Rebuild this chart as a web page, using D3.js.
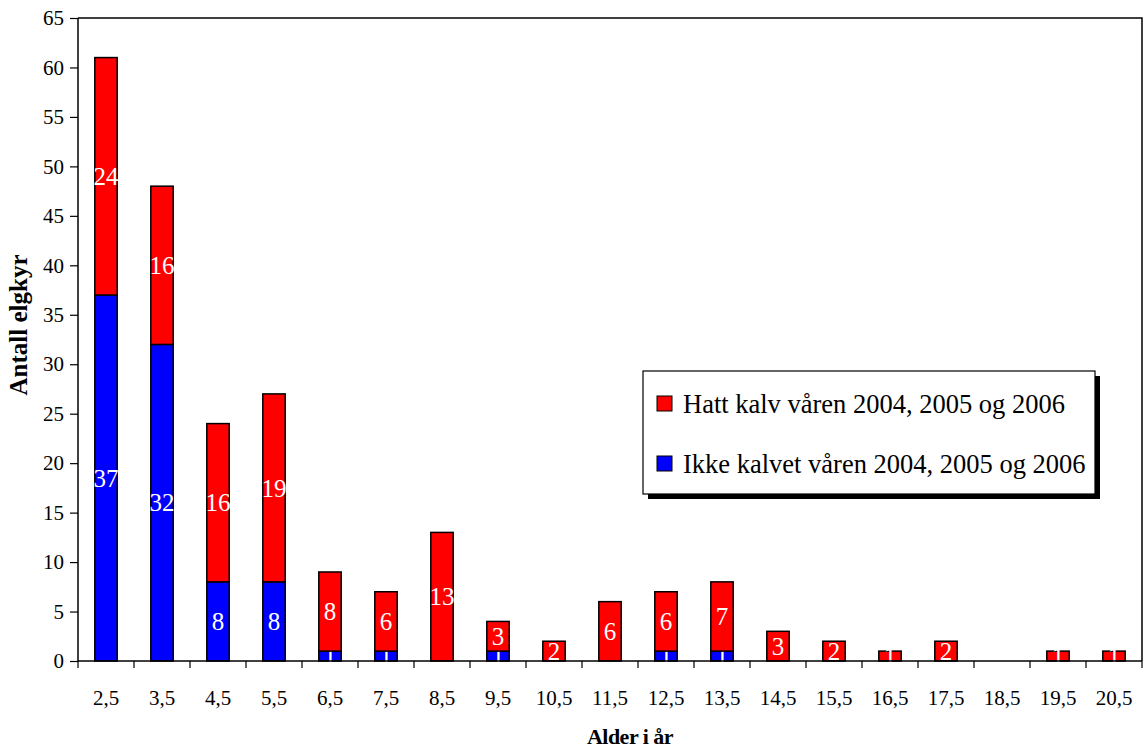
<!DOCTYPE html>
<html>
<head>
<meta charset="utf-8">
<script src="https://cdn.jsdelivr.net/npm/d3@7/dist/d3.min.js"></script>
<style>
  body { margin: 0; background: #fff; }
  svg text { font-family: "Liberation Serif", "Times New Roman", serif; }
</style>
</head>
<body>
<svg id="chart" width="1144" height="749"></svg>
<script>
// data
var ages = ["2,5","3,5","4,5","5,5","6,5","7,5","8,5","9,5","10,5","11,5","12,5","13,5","14,5","15,5","16,5","17,5","18,5","19,5","20,5"];
var ikkeKalvet = [37, 32, 8, 8, 1, 1, 0, 1, 0, 0, 1, 1, 0, 0, 0, 0, 0, 0, 0];
var hattKalv   = [24, 16, 16, 19, 8, 6, 13, 3, 2, 6, 6, 7, 3, 2, 1, 2, 0, 1, 1];
var yTicks = d3.range(0, 66, 5);
var seriesNames = ["Hatt kalv våren 2004, 2005 og 2006", "Ikke kalvet våren 2004, 2005 og 2006"];
var colors = {hatt: "#ff0000", ikke: "#0000ff"};

var svg = d3.select("#chart");
var margin = {top: 18, right: 2, bottom: 88, left: 78},
    width = 1144 - margin.left - margin.right,
    height = 749 - margin.top - margin.bottom;

var x = d3.scaleBand().domain(ages).range([0, width]).paddingInner(0.6).paddingOuter(0.3);
var xTick = d3.scaleBand().domain(ages).range([0, width]);
var y = d3.scaleLinear().domain([0, 65]).range([height, 0]);

var g = svg.append("g").attr("transform", "translate(" + margin.left + "," + margin.top + ")");

// plot area frame (top + right)
g.append("path")
  .attr("d", "M0,0H" + width + "V" + height)
  .attr("fill", "none").attr("stroke", "#000").attr("stroke-width", 1.5);

var rows = ages.map(function(a, i) {
  return {age: a, ikke: ikkeKalvet[i], hatt: hattKalv[i]};
});
var stack = d3.stack().keys(["ikke", "hatt"])(rows);

var layers = g.selectAll(".layer").data(stack).enter().append("g")
  .attr("fill", function(d) { return colors[d.key]; });

layers.selectAll("rect")
  .data(function(d) { return d.filter(function(p) { return p[1] - p[0] > 0; }); })
  .enter().append("rect")
  .attr("x", function(d) { return x(d.data.age); })
  .attr("y", function(d) { return y(d[1]); })
  .attr("width", x.bandwidth())
  .attr("height", function(d) { return y(d[0]) - y(d[1]); })
  .attr("stroke", "#000").attr("stroke-width", 1.5);

// x axis
var xAxis = g.append("g")
  .attr("transform", "translate(0," + height + ")");
xAxis.append("line").attr("x1", 0).attr("x2", width)
  .attr("stroke", "#000").attr("stroke-width", 1.5);
xAxis.selectAll(".tk").data(ages.concat(["end"])).enter().append("line")
  .attr("x1", function(d, i) { return i * xTick.step(); })
  .attr("x2", function(d, i) { return i * xTick.step(); })
  .attr("y1", 0).attr("y2", 7)
  .attr("stroke", "#000").attr("stroke-width", 1.2);
xAxis.selectAll(".lbl").data(ages).enter().append("text")
  .attr("x", function(d) { return xTick(d) + xTick.bandwidth() / 2; })
  .attr("y", 44)
  .attr("text-anchor", "middle")
  .attr("font-size", 21)
  .text(function(d) { return d; });

// y axis
var yAxis = g.append("g")
  .call(d3.axisLeft(y).tickValues(yTicks).tickSize(8).tickPadding(6));
yAxis.select(".domain").attr("stroke-width", 1.5).attr("d", "M0," + height + "V0");
yAxis.selectAll("line").attr("stroke-width", 1.2);
yAxis.selectAll("text")
  .attr("font-family", null)
  .attr("font-size", 21).attr("fill", "#000");

// value labels (white, centred in each segment)
layers.selectAll(".val")
  .data(function(d) {
    return d.filter(function(p) { return (p[1] - p[0] > 0) || (d.key === "hatt" && p.data.ikke === 0 && p.data.hatt === 0); });
  })
  .enter().append("text")
  .attr("x", function(d) { return x(d.data.age) + x.bandwidth() / 2; })
  .attr("y", function(d) { return y((d[0] + d[1]) / 2); })
  .attr("dy", "0.35em")
  .attr("text-anchor", "middle")
  .attr("font-size", 25)
  .attr("fill", "#fff")
  .text(function(d) { return d[1] - d[0]; });

// axis titles
svg.append("text")
  .attr("x", 630).attr("y", 744)
  .attr("text-anchor", "middle").attr("font-size", 22).attr("font-weight", "bold")
  .attr("letter-spacing", -0.5)
  .text("Alder i år");
svg.append("text")
  .attr("transform", "translate(27,325) rotate(-90)")
  .attr("text-anchor", "middle").attr("font-size", 25).attr("font-weight", "bold")
  .text("Antall elgkyr");

// legend
var lg = svg.append("g").attr("transform", "translate(643,371)");
lg.append("rect").attr("x", 5).attr("y", 5).attr("width", 452).attr("height", 123).attr("fill", "#000");
lg.append("rect").attr("x", 0).attr("y", 0).attr("width", 452).attr("height", 123)
  .attr("fill", "#fff").attr("stroke", "#000").attr("stroke-width", 1.2);
var items = [{name: seriesNames[0], c: colors.hatt}, {name: seriesNames[1], c: colors.ikke}];
var li = lg.selectAll(".li").data(items).enter().append("g")
  .attr("transform", function(d, i) { return "translate(0," + (i * 60) + ")"; });
li.append("rect").attr("x", 14).attr("y", 25).attr("width", 15).attr("height", 15)
  .attr("fill", function(d) { return d.c; }).attr("stroke", "#000").attr("stroke-width", 1);
li.append("text").attr("x", 40).attr("y", 42).attr("font-size", 26.5)
  .text(function(d) { return d.name; });
</script>
</body>
</html>
